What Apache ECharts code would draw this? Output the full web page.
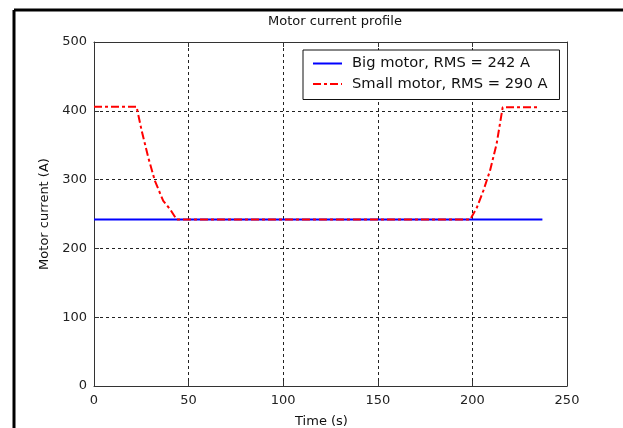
<!DOCTYPE html>
<html>
<head>
<meta charset="utf-8">
<script src="https://cdn.jsdelivr.net/npm/echarts@6/dist/echarts.min.js"></script>
<style>
  html, body { margin: 0; padding: 0; background: #fff; }
  #chart { width: 623px; height: 428px; }
</style>
</head>
<body>
<div id="chart"></div>
<script>
// Motor current over the duty cycle for the two motor options
var bigTime = [0, 237];
var bigCurrent = [242, 242];

var smallTime = [0, 22.5, 25.2, 28.7, 32.2, 36.6, 40.2, 43.7, 198.8, 202.3, 205.8, 209.3, 212.8, 216, 235.7];
var smallCurrent = [406, 406, 371, 332, 298, 269, 257, 242, 242, 259, 284, 313, 352, 405, 405];

var seriesNames = ['Big motor, RMS = 242 A', 'Small motor, RMS = 290 A'];
var xTicks = [0, 50, 100, 150, 200, 250];
var yTicks = [0, 100, 200, 300, 400, 500];

function pairs(xs, ys) {
  return xs.map(function (x, i) { return [x, ys[i]]; });
}

var FONT = 'DejaVu Sans';
var gridLine = { show: true, lineStyle: { color: '#222', width: 1, type: [3, 3] } };
var boxLine = { show: true, onZero: false, lineStyle: { color: '#333', width: 1 } };
var tickIn = { show: true, inside: true, length: 5, lineStyle: { color: '#333' } };

var chart = echarts.init(document.getElementById('chart'), null, { renderer: 'canvas' });
chart.setOption({
  animation: false,
  backgroundColor: '#fff',
  title: {
    text: 'Motor current profile',
    left: 330, top: 10, textAlign: 'center',
    textStyle: { fontFamily: FONT, fontSize: 13, fontWeight: 'normal', color: '#111' }
  },
  grid: { left: 94, right: 56, top: 42, bottom: 42, outerBoundsMode: 'none', containLabel: false },
  legend: {
    orient: 'vertical',
    left: 303, top: 50,
    padding: [6, 12, 8, 9],
    itemGap: 5.5, itemWidth: 29, itemHeight: 14,
    backgroundColor: '#fff', borderColor: '#111', borderWidth: 1,
    itemStyle: { opacity: 0, borderWidth: 0 },
    textStyle: { fontFamily: FONT, fontSize: 14.7, color: '#111', padding: [0, 0, 0, 5] },
    data: seriesNames
  },
  xAxis: [{
    type: 'value', min: 0, max: 250, interval: 50,
    name: 'Time (s)', nameLocation: 'middle', nameGap: 29,
    nameTextStyle: { fontFamily: FONT, fontSize: 13, color: '#111', padding: [0, 18, 0, 0] },
    axisLine: boxLine, axisTick: tickIn, splitLine: gridLine,
    axisLabel: { fontFamily: FONT, fontSize: 13, color: '#222', margin: 8,
      formatter: function (v) { return xTicks.indexOf(v) >= 0 ? String(v) : ''; } }
  }, {
    type: 'value', position: 'top', min: 0, max: 250, interval: 50,
    axisLine: boxLine, axisTick: tickIn, splitLine: { show: false }, axisLabel: { show: false }
  }],
  yAxis: [{
    type: 'value', min: 0, max: 500, interval: 100,
    name: 'Motor current (A)', nameLocation: 'middle', nameGap: 40,
    nameTextStyle: { fontFamily: FONT, fontSize: 13, color: '#111' },
    axisLine: boxLine, axisTick: tickIn, splitLine: gridLine,
    axisLabel: { fontFamily: FONT, fontSize: 13, color: '#222', margin: 7,
      formatter: function (v) { return yTicks.indexOf(v) >= 0 ? String(v) : ''; } }
  }, {
    type: 'value', position: 'right', min: 0, max: 500, interval: 100,
    axisLine: boxLine, axisTick: tickIn, splitLine: { show: false }, axisLabel: { show: false }
  }],
  graphic: [
    { type: 'line', shape: { x1: 14, y1: 10, x2: 623, y2: 10 }, style: { stroke: '#000', lineWidth: 3 } },
    { type: 'line', shape: { x1: 14, y1: 10, x2: 14, y2: 428 }, style: { stroke: '#000', lineWidth: 3 } }
  ],
  series: [{
    name: seriesNames[0], type: 'line', showSymbol: false, symbol: 'none',
    data: pairs(bigTime, bigCurrent),
    lineStyle: { color: '#0000ff', width: 2 }, itemStyle: { color: '#0000ff' }, z: 2
  }, {
    name: seriesNames[1], type: 'line', showSymbol: false, symbol: 'none',
    data: pairs(smallTime, smallCurrent),
    lineStyle: { color: '#ff0000', width: 2, type: [8, 3, 3, 3] }, itemStyle: { color: '#ff0000' }, z: 3
  }]
});
</script>
</body>
</html>
